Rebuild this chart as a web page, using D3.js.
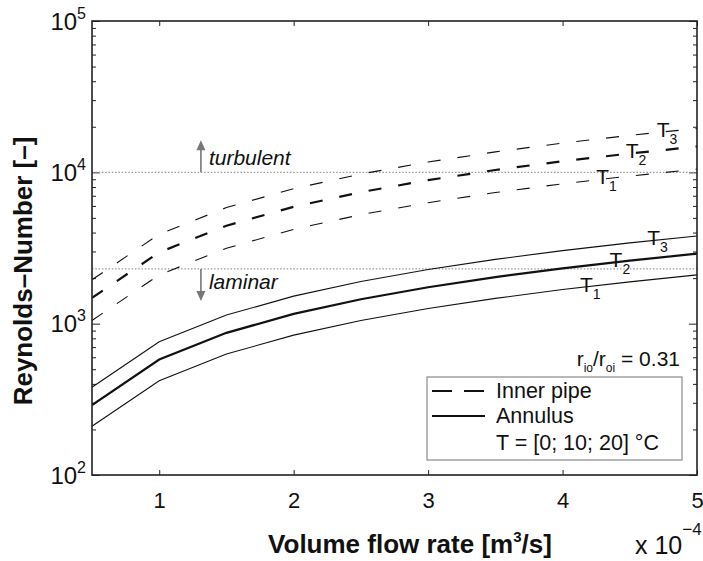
<!DOCTYPE html>
<html><head><meta charset="utf-8">
<script src="https://cdn.jsdelivr.net/npm/d3@7"></script>
<style>
body{margin:0;background:#fff}
svg{display:block}
text{font-family:"Liberation Sans",Arial,Helvetica,sans-serif;fill:#111}
</style>
</head><body>
<svg id="c" width="703" height="561"></svg>
<script>
// ---- data ----
const flowRate = [0.5, 1, 1.5, 2, 2.5, 3, 3.5, 4, 4.5, 5];           // x 10^-4 m^3/s
const innerT1 = [1050, 2100, 3150, 4200, 5250, 6300, 7350, 8400, 9450, 10500];
const innerT2 = [1480, 2960, 4440, 5920, 7400, 8880, 10360, 11840, 13320, 14800];
const innerT3 = [1950, 3900, 5850, 7800, 9750, 11700, 13650, 15600, 17550, 19500];
const annulusT1 = [210, 420, 630, 840, 1050, 1260, 1470, 1680, 1890, 2100];
const annulusT2 = [290, 580, 870, 1160, 1450, 1740, 2030, 2320, 2610, 2900];
const annulusT3 = [380, 760, 1140, 1520, 1900, 2280, 2660, 3040, 3420, 3800];
const seriesNames = ["T1", "T2", "T3"];
const innerLabelX = [4.25, 4.47, 4.70];
const annulusLabelX = [4.13, 4.35, 4.63];
const regimeLimits = [2300, 10000];   // laminar / turbulent
const regimeArrowX = 1.31;
const xTicks = [1, 2, 3, 4, 5];
const yMajor = [100, 1000, 10000, 100000];
const yExponents = ["2", "3", "4", "5"];

// ---- layout ----
const svg = d3.select("#c");
const L = 92, R = 697, T = 21, B = 475;
const x = d3.scaleLinear().domain([0.5, 5]).range([L, R]);
const y = d3.scaleLog().domain([100, 100000]).range([B, T]);

svg.append("defs").append("clipPath").attr("id", "clip")
  .append("rect").attr("x", L).attr("y", T).attr("width", R - L).attr("height", B - T);

// minor log ticks
const yMinor = [];
for (let e = 2; e < 5; e++) for (let m = 2; m <= 9; m++) yMinor.push(m * Math.pow(10, e));

function clean(g) { g.select(".domain").remove(); g.selectAll(".tick line").attr("stroke", "#222"); }

// bottom axis
const gb = svg.append("g").attr("transform", `translate(0,${B})`)
  .call(d3.axisBottom(x).tickValues(xTicks).tickSize(-5).tickPadding(17).tickFormat(d3.format("d")));
clean(gb);
gb.selectAll("text").attr("font-size", 22).attr("fill", "#111").attr("font-family", "Liberation Sans, Arial, sans-serif");
// top axis
const gt = svg.append("g").attr("transform", `translate(0,${T})`)
  .call(d3.axisTop(x).tickValues(xTicks).tickSize(-5).tickFormat(""));
clean(gt);
// left axis major + minor
const gl = svg.append("g").attr("transform", `translate(${L},0)`)
  .call(d3.axisLeft(y).tickValues(yMajor).tickSize(-8).tickFormat(""));
clean(gl);
gl.selectAll(".tick").each(function(d, i) {
  const t = d3.select(this).append("text")
    .attr("x", -6).attr("y", 8).attr("text-anchor", "end")
    .attr("font-size", 24).attr("fill", "#111").attr("font-family", "Liberation Sans, Arial, sans-serif").text("10");
  t.append("tspan").attr("font-size", 16).attr("dy", -11).text(yExponents[i]);
});
const glm = svg.append("g").attr("transform", `translate(${L},0)`)
  .call(d3.axisLeft(y).tickValues(yMinor).tickSize(-4).tickFormat(""));
clean(glm);
// right axis
const gr = svg.append("g").attr("transform", `translate(${R},0)`)
  .call(d3.axisRight(y).tickValues(yMajor).tickSize(-8).tickFormat(""));
clean(gr);
const grm = svg.append("g").attr("transform", `translate(${R},0)`)
  .call(d3.axisRight(y).tickValues(yMinor).tickSize(-4).tickFormat(""));
clean(grm);

// regime limit lines
const plot = svg.append("g").attr("clip-path", "url(#clip)");
plot.selectAll(".lim").data(regimeLimits).enter().append("line")
  .attr("x1", L).attr("x2", R).attr("y1", d => y(d)).attr("y2", d => y(d))
  .attr("stroke", "#9a9a9a").attr("stroke-width", 1.2).attr("stroke-dasharray", "1.5,1.8");

// arrows
const arrowCol = "#777";
function arrow(v, dir) {
  const x0 = x(regimeArrowX), y0 = y(v), y1 = y0 + dir * 32;
  svg.append("line").attr("x1", x0).attr("x2", x0).attr("y1", y0).attr("y2", y1 - dir * 8)
    .attr("stroke", arrowCol).attr("stroke-width", 1.6);
  svg.append("path").attr("d", `M${x0 - 4.5},${y1 - dir * 10}L${x0 + 4.5},${y1 - dir * 10}L${x0},${y1}Z`)
    .attr("fill", arrowCol);
}
arrow(regimeLimits[1], -1);
arrow(regimeLimits[0], 1);
svg.append("text").attr("x", x(regimeArrowX) + 8).attr("y", y(regimeLimits[1]) - 7)
  .attr("font-size", 21).attr("font-style", "italic").text("turbulent");
svg.append("text").attr("x", x(regimeArrowX) + 8).attr("y", y(regimeLimits[0]) + 20)
  .attr("font-size", 21).attr("font-style", "italic").text("laminar");

// curves
const line = d3.line().x((d, i) => x(flowRate[i])).y(d => y(d));
const inner = [innerT1, innerT2, innerT3];
const annulus = [annulusT1, annulusT2, annulusT3];
const widths = [1.1, 2.2, 1.1];
inner.forEach((s, i) => plot.append("path").attr("d", line(s)).attr("fill", "none")
  .attr("stroke", "#111").attr("stroke-width", widths[i]).attr("stroke-dasharray", "13,17"));
annulus.forEach((s, i) => plot.append("path").attr("d", line(s)).attr("fill", "none")
  .attr("stroke", "#111").attr("stroke-width", widths[i]));

// curve labels
function yAt(series, lx) {
  return d3.scaleLinear().domain(flowRate).range(series.map(v => y(v)))(lx);
}
function tLabel(series, lx, name) {
  const t = svg.append("text").attr("x", x(lx)).attr("y", yAt(series, lx) + 4)
    .attr("font-size", 21).text(name[0]);
  t.append("tspan").attr("font-size", 14).attr("dy", 7).text(name.slice(1));
}
inner.forEach((s, i) => tLabel(s, innerLabelX[i], seriesNames[i]));
annulus.forEach((s, i) => tLabel(s, annulusLabelX[i], seriesNames[i]));

// box
svg.append("rect").attr("x", L).attr("y", T).attr("width", R - L).attr("height", B - T)
  .attr("fill", "none").attr("stroke", "#222").attr("stroke-width", 1.6);

// ratio text
const rt = svg.append("text").attr("x", 680).attr("y", 366).attr("text-anchor", "end").attr("font-size", 21);
rt.append("tspan").text("r");
rt.append("tspan").attr("font-size", 12).attr("dy", 6).text("io");
rt.append("tspan").attr("dy", -6).text("/r");
rt.append("tspan").attr("font-size", 12).attr("dy", 6).text("oi");
rt.append("tspan").attr("dy", -6).text(" = 0.31");

// legend
const lg = svg.append("g");
lg.append("rect").attr("x", 427).attr("y", 377).attr("width", 255).attr("height", 83)
  .attr("fill", "#fff").attr("stroke", "#8a8a8a").attr("stroke-width", 1.2);
lg.append("line").attr("x1", 432).attr("x2", 485).attr("y1", 391).attr("y2", 391)
  .attr("stroke", "#111").attr("stroke-width", 2).attr("stroke-dasharray", "20,12");
lg.append("line").attr("x1", 432).attr("x2", 485).attr("y1", 416).attr("y2", 416)
  .attr("stroke", "#111").attr("stroke-width", 2);
lg.append("text").attr("x", 496).attr("y", 398).attr("font-size", 21.5).text("Inner pipe");
lg.append("text").attr("x", 496).attr("y", 423).attr("font-size", 21.5).text("Annulus");
lg.append("text").attr("x", 496).attr("y", 450).attr("font-size", 21.5).text("T = [0; 10; 20] °C");

// axis titles
const xt = svg.append("text").attr("x", 410).attr("y", 553).attr("text-anchor", "middle")
  .attr("font-size", 26).attr("font-weight", "bold");
xt.append("tspan").text("Volume flow rate [m");
xt.append("tspan").attr("font-size", 15).attr("dy", -11).text("3");
xt.append("tspan").attr("dy", 11).text("/s]");
const xs = svg.append("text").attr("x", 635).attr("y", 554).attr("font-size", 25);
xs.append("tspan").text("x 10");
xs.append("tspan").attr("font-size", 17).attr("dy", -19).text("−4");

svg.append("text").attr("transform", "translate(32,271) rotate(-90)").attr("text-anchor", "middle")
  .attr("font-size", 26).attr("font-weight", "bold").text("Reynolds–Number [–]");
</script>
</body></html>
